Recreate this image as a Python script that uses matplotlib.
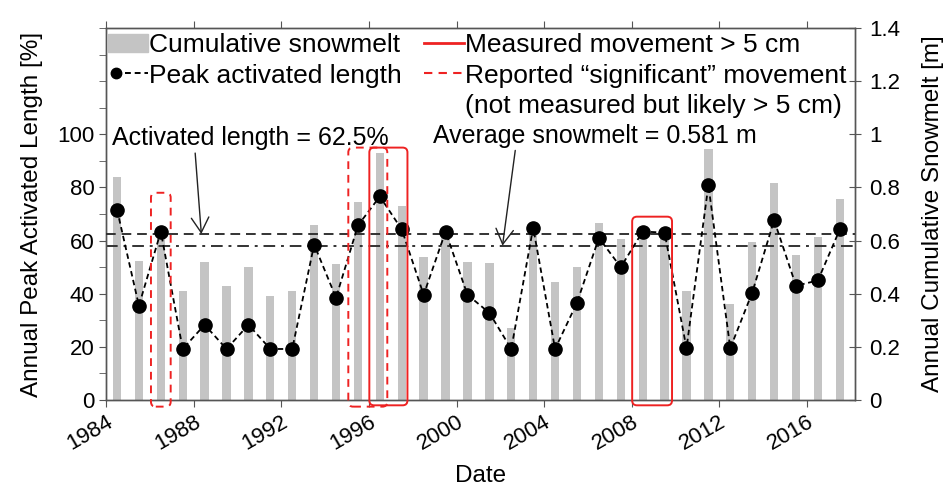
import matplotlib
matplotlib.use("Agg")
import matplotlib.pyplot as plt
from matplotlib.lines import Line2D
from matplotlib.patches import Patch, FancyBboxPatch
from matplotlib.ticker import MultipleLocator, FormatStrFormatter
import numpy as np

plt.rcParams["font.family"] = ["Liberation Sans", "DejaVu Sans"]

# ---------- data ----------
years = np.arange(1984.5, 2018.0, 1.0)
snowmelt = [0.84, 0.525, 0.64, 0.41, 0.52, 0.43, 0.50, 0.39, 0.41, 0.66,
            0.51, 0.745, 0.93, 0.73, 0.54, 0.63, 0.52, 0.515, 0.27, 0.64,
            0.445, 0.50, 0.665, 0.605, 0.63, 0.61, 0.41, 0.945, 0.36, 0.595,
            0.815, 0.545, 0.615, 0.755]
activated = [71.7, 35.5, 63.4, 19.2, 28.3, 19.2, 28.3, 19.2, 19.2, 58.5,
             38.5, 65.7, 76.6, 64.2, 39.6, 63.4, 39.6, 32.8, 19.2, 64.9,
             19.2, 36.6, 61.0, 50.0, 63.4, 63.0, 19.5, 80.8, 19.5, 40.4,
             67.7, 43.0, 45.0, 64.2]
avg_activated = 62.5
avg_snowmelt = 0.581

# movement boxes: (x0, x1, y_top)
measured_boxes = [(1996.02, 1997.76, 95.0), (2008.02, 2009.84, 69.0)]
reported_boxes = [(1986.05, 1986.95, 78.0), (1995.06, 1996.84, 95.0)]

BAR_GRAY = "#c4c4c4"
RED = "#ee2222"


class DotDashHandler:
    # legend key: dot on the left, then two dashes
    def legend_artist(self, legend, orig_handle, fontsize, handlebox):
        x0, y0 = handlebox.xdescent, handlebox.ydescent
        w, h = handlebox.width, handlebox.height
        yc = y0 + h / 2
        dash = Line2D([x0 + 0.42 * w, x0 + w], [yc, yc], color="black",
                      lw=1.4, ls=(0, (3, 2)))
        dot = Line2D([x0 + 0.2 * w], [yc], color="black", marker="o", ms=7.5)
        handlebox.add_artist(dash)
        handlebox.add_artist(dot)
        return dot


fig = plt.figure(figsize=(9.47, 4.92), dpi=100)
ax = fig.add_axes([0.112, 0.187, 0.791, 0.756])
ax2 = ax.twinx()
ax.set_zorder(ax2.get_zorder() + 1)
ax.patch.set_visible(False)

# bars (right axis)
ax2.bar(years, snowmelt, width=0.38, color=BAR_GRAY, zorder=1)
ax2.axhline(avg_snowmelt, color="#333333", lw=1.4, ls=(0, (6, 3, 1.5, 3)), zorder=2)
ax2.set_ylim(0, 1.4)
ax2.yaxis.set_major_locator(MultipleLocator(0.2))
ax2.yaxis.set_major_formatter(FormatStrFormatter("%g"))
ax2.set_ylabel("Annual Cumulative Snowmelt [m]", fontsize=17.5, labelpad=16)

# points (left axis)
peak_line, = ax.plot(years, activated, color="black", ls=(0, (3, 2)), lw=1.3,
                     marker="o", markersize=9.5, zorder=4)
ax.axhline(avg_activated, color="#333333", lw=1.4, ls=(0, (5, 3)), zorder=3)
ax.set_ylim(0, 140)
ax.set_xlim(1984, 2018.2)
ax.set_yticks([0, 20, 40, 60, 80, 100])
ax.yaxis.set_minor_locator(MultipleLocator(10))
ax.xaxis.set_major_locator(MultipleLocator(4))
ax.set_ylabel("Annual Peak Activated Length [%]", fontsize=17.5, labelpad=10)
ax.set_xlabel("Date", fontsize=17.5, labelpad=7)

for x0, x1, top in measured_boxes:
    ax.add_patch(FancyBboxPatch((x0, -2.0), x1 - x0, top + 2.0,
                                boxstyle="round,pad=0,rounding_size=0.22",
                                mutation_aspect=8.3, fill=False,
                                ec=RED, lw=1.4, clip_on=False, zorder=5))
for x0, x1, top in reported_boxes:
    ax.add_patch(FancyBboxPatch((x0, -2.5), x1 - x0, top + 2.5,
                                boxstyle="round,pad=0,rounding_size=0.22",
                                mutation_aspect=8.3, fill=False,
                                ec=RED, lw=1.4, ls=(0, (4, 3)),
                                clip_on=False, zorder=5))

# annotations
arrow = dict(arrowstyle="->,head_width=0.35,head_length=0.6",
             lw=1.0, color="#222222", shrinkA=0, shrinkB=0)
ax.annotate("Activated length = 62.5%", xy=(1988.35, avg_activated),
            xytext=(1984.27, 98.5), fontsize=18, va="center", ha="left",
            arrowprops=dict(arrow, relpos=(0.3, 0.0)))
ax.annotate("Average snowmelt = 0.581 m", xy=(2002.1, avg_snowmelt * 100),
            xytext=(1998.93, 99.5), fontsize=18, va="center", ha="left",
            arrowprops=dict(arrow, relpos=(0.255, 0.0)))

# ticks / spines
for a in (ax, ax2):
    for s in a.spines.values():
        s.set_color("#555555")
        s.set_linewidth(1.0)
ax.tick_params(axis="y", which="both", direction="out", length=5,
               color="#555555", labelsize=16)
ax.tick_params(axis="x", direction="out", length=5, color="#555555",
               labelsize=16, top=True)
ax2.tick_params(axis="y", direction="inout", length=8, color="#555555",
                labelsize=16, pad=6)
for lbl in ax.get_xticklabels():
    lbl.set_rotation(30)
    lbl.set_ha("right")
    lbl.set_rotation_mode("anchor")

# legend
blank = Line2D([], [], color="none")
handles = [Patch(color=BAR_GRAY),
           peak_line,
           blank,
           Line2D([], [], color=RED, lw=2),
           Line2D([], [], color=RED, lw=1.5, ls=(0, (4, 3))),
           blank]
labels = ["Cumulative snowmelt", "Peak activated length", "",
          "Measured movement > 5 cm",
          "Reported \u201csignificant\u201d movement",
          "(not measured but likely > 5 cm)"]
ax.legend(handles, labels, ncol=2, loc="upper left",
          bbox_to_anchor=(0.003, 0.986), frameon=False, fontsize=19,
          handlelength=1.5, handletextpad=0.05, columnspacing=0.85,
          labelspacing=0.24, borderpad=0, borderaxespad=0,
          handler_map={peak_line: DotDashHandler()})

fig.savefig("out.png", dpi=100)
